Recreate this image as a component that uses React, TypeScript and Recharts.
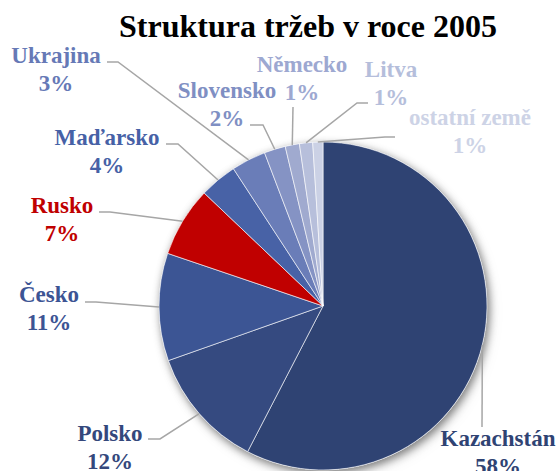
import React from 'react';
import { PieChart, Pie, Cell } from 'recharts';

const categories = ['Kazachstán', 'Polsko', 'Česko', 'Rusko', 'Maďarsko', 'Ukrajina', 'Slovensko', 'Německo', 'Litva', 'ostatní země'];
const shares = [57.6, 12.0, 10.6, 6.9, 3.7, 3.4, 2.1, 1.4, 1.3, 1.0];
const sliceColors = ['#2F4373', '#354A80', '#3C5594', '#C00000', '#4862A6', '#6A7DB8', '#8593C4', '#A0AACF', '#B7BFDB', '#CBD1E5'];
const labelColors = ['#2F4373', '#34487C', '#3C5494', '#C00000', '#4661A6', '#6679B6', '#7F8FC3', '#9DA8D1', '#B5BEDB', '#CDD3E6'];
const title = 'Struktura tržeb v roce 2005';

const data = categories.map((name, i) => ({ name, value: shares[i] }));

// label placement (label centre x, first baseline y) and leader line route
const labelLayout: { x: number; y: number; path: number[][] }[] = [
  { x: 498, y: 446, path: [[482, 427]] },
  { x: 110, y: 441, path: [[160, 439], [148, 439]] },
  { x: 49, y: 302, path: [[96, 302], [85, 302]] },
  { x: 62, y: 213, path: [[110, 212], [99, 212]] },
  { x: 107, y: 145, path: [[178, 144], [166, 144]] },
  { x: 56, y: 63, path: [[118, 62], [107, 62]] },
  { x: 227, y: 98, path: [[263, 125], [250, 125]] },
  { x: 302, y: 72, path: [[293, 107]] },
  { x: 391, y: 77, path: [[357, 103], [368, 103]] },
  { x: 470, y: 125, path: [[385, 137], [395, 137]] },
];

const FONT = '"Liberation Serif", "Times New Roman", serif';

const renderLabel = (props: any) => {
  const { cx, cy, midAngle, outerRadius, index, percent, name } = props;
  const RAD = Math.PI / 180;
  const ex = cx + outerRadius * Math.cos(-midAngle * RAD);
  const ey = cy + outerRadius * Math.sin(-midAngle * RAD);
  const lay = labelLayout[index];
  const pts = [[ex, ey], ...lay.path].map((p) => p.join(',')).join(' ');
  const pct = Math.round(percent * 100) + '%';
  return (
    <g key={'lbl' + index}>
      <polyline points={pts} fill="none" stroke="#A6A6A6" strokeWidth={1.5} />
      <text textAnchor="middle" fontFamily={FONT} fontWeight="bold" fontSize={23} fill={labelColors[index]}>
        <tspan x={lay.x} y={lay.y}>{name}</tspan>
        <tspan x={lay.x} y={lay.y + 28}>{pct}</tspan>
      </text>
    </g>
  );
};

export default function App() {
  return (
    <div style={{ position: 'absolute', left: 0, top: 0, width: 560, height: 471, background: '#fff', overflow: 'hidden' }}>
      <style>{`.pie-shadow { filter: url(#pieShadow); }`}</style>
      <svg width="0" height="0" style={{ position: 'absolute' }}>
        <defs>
          <filter id="pieShadow" x="-20%" y="-20%" width="140%" height="140%">
            <feDropShadow dx="2" dy="3" stdDeviation="4" floodColor="#000" floodOpacity="0.3" />
          </filter>
        </defs>
      </svg>
      <div
        style={{
          position: 'absolute',
          left: 308,
          top: 10,
          transform: 'translateX(-50%)',
          whiteSpace: 'nowrap',
          fontFamily: FONT,
          fontWeight: 'bold',
          fontSize: 32,
          lineHeight: '32px',
          color: '#000',
        }}
      >
        {title}
      </div>
      <PieChart width={560} height={471} margin={{ top: 0, right: 0, bottom: 0, left: 0 }}>
        <Pie
          data={data}
          dataKey="value"
          nameKey="name"
          cx={323}
          cy={306}
          outerRadius={164}
          startAngle={90}
          endAngle={-270}
          className="pie-shadow"
          fill="#ffffff"
          stroke="none"
          isAnimationActive={false}
          label={false}
          labelLine={false}
        />
        <Pie
          data={data}
          dataKey="value"
          nameKey="name"
          cx={323}
          cy={306}
          outerRadius={164}
          startAngle={90}
          endAngle={-270}
          stroke="#ffffff"
          strokeWidth={0.6}
          isAnimationActive={false}
          label={renderLabel}
          labelLine={false}
        >
          {data.map((d, i) => (
            <Cell key={d.name} fill={sliceColors[i]} />
          ))}
        </Pie>
      </PieChart>
    </div>
  );
}
